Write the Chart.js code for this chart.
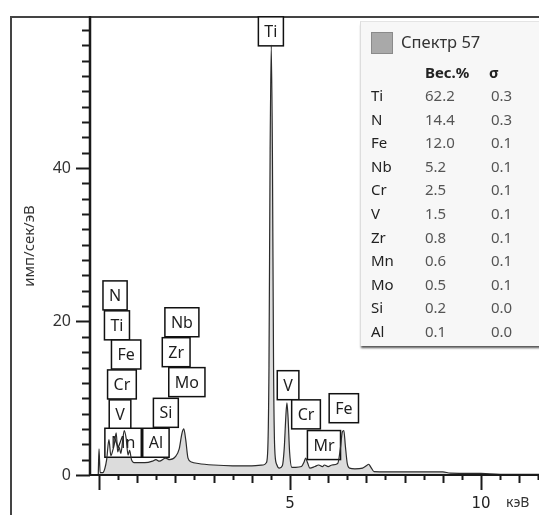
<!DOCTYPE html>
<html>
<head>
<meta charset="utf-8">
<script src="https://cdn.jsdelivr.net/npm/chart.js@4.4.1/dist/chart.umd.min.js"></script>
<style>
  body { margin: 0; background: #fff; }
  #wrap { position: relative; width: 539px; height: 515px; overflow: hidden; }
  #frame { position: absolute; left: 10px; top: 16px; width: 700px; height: 700px; border-left: 2px solid #444; border-top: 2px solid #444; }
  #spec { position: absolute; left: 0; top: 0; }
  #panel { position: absolute; left: 360px; top: 21px; width: 200px; height: 324px; background: #f7f7f7; border-left: 1px solid #ddd; border-top: 1px solid #e4e4e4; box-shadow: 0 3px 2px -1px #555; font-family: 'Noto Sans', sans-serif; color: #333; }
  #panel .sw { position: absolute; left: 10px; top: 10px; width: 20px; height: 20px; background: #a9a9a9; border: 1px solid #8a8a8a; }
  #panel .ttl { position: absolute; left: 40px; top: 8px; font-size: 16.5px; line-height: 24px; color: #333; }
  #panel .c { position: absolute; font-size: 15px; line-height: 20px; }
  #panel .h { font-weight: bold; color: #222; }
  #panel .el { color: #222; }
  #panel .v { color: #555; }
</style>
</head>
<body>
<div id="wrap">
  <div id="frame"></div>
  <canvas id="spec" width="539" height="515"></canvas>
  <div id="panel"></div>
</div>
<script>
/* spectrum */
const energy = [-0.02, 0.0, 0.03, 0.10, 0.15, 0.20, 0.26, 0.31, 0.36, 0.40, 0.45, 0.49, 0.53, 0.57, 0.62, 0.66, 0.71, 0.76, 0.80, 0.85, 0.92,
    1.0, 1.2, 1.4, 1.49, 1.58, 1.74, 1.85, 2.0, 2.1, 2.17, 2.22, 2.27, 2.33, 2.42, 2.6, 3.0, 3.5, 4.0, 4.3, 4.38, 4.42, 4.45, 4.48, 4.51,
    4.54, 4.57, 4.60, 4.65, 4.72, 4.80, 4.85, 4.89, 4.92, 4.95, 4.99, 5.05, 5.15, 5.30, 5.37, 5.41, 5.46, 5.52, 5.65, 5.75, 5.85, 5.90,
    6.0, 6.1, 6.25, 6.32, 6.37, 6.41, 6.45, 6.50, 6.56, 6.7, 6.9, 7.0, 7.06, 7.12, 7.2, 8.0, 9.0, 9.2, 10.0, 10.5, 11.6];
const counts = [0, 3.4, 0.3, 0.3, 0.8, 2.0, 4.6, 2.5, 3.2, 4.0, 5.5, 3.0, 3.6, 2.8, 4.5, 5.8, 4.8, 2.6, 3.2, 2.0, 1.6,
    1.6, 1.6, 1.8, 2.0, 1.8, 2.2, 2.0, 2.4, 3.4, 5.4, 6.0, 4.6, 2.2, 1.7, 1.5, 1.3, 1.2, 1.2, 1.3, 1.6, 3.5, 14, 42, 56,
    42, 14, 3.5, 1.4, 0.9, 1.2, 3.5, 7.5, 9.4, 7.5, 3.0, 1.0, 1.0, 1.1, 1.7, 2.2, 1.6, 0.9, 1.1, 1.3, 1.1, 1.3,
    1.1, 1.3, 1.5, 3.5, 5.6, 5.8, 3.8, 1.5, 0.9, 0.8, 0.9, 1.2, 1.4, 1.0, 0.45, 0.4, 0.4, 0.25, 0.2, 0.1, 0.1];

/* peak markers */
const peakNames = ['Ti', 'N', 'Ti', 'Fe', 'Cr', 'V', 'Mn', 'Al', 'Si', 'Nb', 'Zr', 'Mo', 'V', 'Cr', 'Fe', 'Mr'];
const peakKeV = [4.50, 0.42, 0.47, 0.71, 0.60, 0.55, 0.63, 1.49, 1.75, 2.17, 2.02, 2.30, 4.95, 5.42, 6.41, 5.89];
const peakCounts = [57.8, 23.4, 19.5, 15.7, 11.8, 7.9, 4.2, 4.2, 8.1, 19.9, 16.0, 12.1, 11.7, 7.9, 8.7, 3.9];

/* axes */
const xTickLabels = [0, 5, 10];
const yTickLabels = [0, 20, 40];

/* quant table */
const elements = ['Ti', 'N', 'Fe', 'Nb', 'Cr', 'V', 'Zr', 'Mn', 'Mo', 'Si', 'Al'];
const weightPct = ['62.2', '14.4', '12.0', '5.2', '2.5', '1.5', '0.8', '0.6', '0.5', '0.2', '0.1'];
const sigmaPct = ['0.3', '0.3', '0.1', '0.1', '0.1', '0.1', '0.1', '0.1', '0.1', '0.0', '0.0'];

function renderPanel() {
    const p = document.getElementById('panel');
    let html = '<div class="sw"></div><div class="ttl">Спектр 57</div>' +
        '<div class="c h" style="left:64px;top:40px">Вес.%</div><div class="c h" style="left:128px;top:40px">σ</div>';
    elements.forEach((el, i) => {
        const top = 63 + i * 23.6;
        html += `<div class="c el" style="left:10px;top:${top}px">${el}</div>` +
            `<div class="c v" style="left:64px;top:${top}px">${weightPct[i]}</div>` +
            `<div class="c v" style="left:130px;top:${top}px">${sigmaPct[i]}</div>`;
    });
    p.innerHTML = html;
}

const decor = {
    id: 'decor',
    afterDatasetDraw(chart, args) {
        if (args.index !== 0) return;
        // marker boxes sit over the fill but under the trace
        const ctx = chart.ctx, xs = chart.scales.x, ys = chart.scales.y;
        ctx.save();
        ctx.font = '16px "Noto Sans"';
        ctx.textAlign = 'center';
        ctx.textBaseline = 'middle';
        peakNames.forEach((n, i) => {
            const cx = xs.getPixelForValue(peakKeV[i]), cy = ys.getPixelForValue(peakCounts[i]);
            const w = Math.max(21, ctx.measureText(n).width + 12), h = 29;
            ctx.fillStyle = '#fff';
            ctx.fillRect(cx - w / 2, cy - h / 2, w, h);
            ctx.strokeStyle = '#111';
            ctx.lineWidth = 1.5;
            ctx.strokeRect(cx - w / 2, cy - h / 2, w, h);
            ctx.fillStyle = '#1e1e1e';
            ctx.fillText(n, cx, cy + 1);
        });
        ctx.restore();
    },
    afterDraw(chart) {
        const ctx = chart.ctx, xs = chart.scales.x, ys = chart.scales.y, a = chart.chartArea;
        ctx.save();
        ctx.strokeStyle = '#1a1a1a';
        // axis lines
        ctx.lineWidth = 2.5;
        ctx.beginPath(); ctx.moveTo(a.left, a.top); ctx.lineTo(a.left, a.bottom + 1); ctx.stroke();
        ctx.lineWidth = 2;
        ctx.beginPath(); ctx.moveTo(a.left, a.bottom); ctx.lineTo(a.right, a.bottom); ctx.stroke();
        // y ticks
        ctx.lineWidth = 2;
        for (let v = 0; v <= ys.max; v += 2) {
            const y = Math.round(ys.getPixelForValue(v)) + 0.5;
            const len = yTickLabels.includes(v) ? 14 : 8;
            ctx.beginPath(); ctx.moveTo(a.left - len, y); ctx.lineTo(a.left, y); ctx.stroke();
        }
        // x ticks
        for (let v = 0; v <= xs.max; v += 0.5) {
            const x = Math.round(xs.getPixelForValue(v)) + 0.5;
            const len = xTickLabels.includes(v) ? 15 : (v % 1 === 0 ? 8 : 5);
            ctx.beginPath(); ctx.moveTo(x, a.bottom); ctx.lineTo(x, a.bottom + len); ctx.stroke();
        }
        // axis titles
        ctx.fillStyle = '#333';
        ctx.font = '14px "Noto Sans"';
        ctx.textAlign = 'left';
        ctx.textBaseline = 'middle';
        ctx.fillText('кэВ', 506, 503);
        ctx.translate(30, 246);
        ctx.rotate(-Math.PI / 2);
        ctx.textAlign = 'center';
        ctx.font = '15px "Noto Sans"';
        ctx.fillText('имп/сек/эВ', 0, 0);
        ctx.restore();
    }
};

function renderSpectrum() {
    const pts = energy.map((e, i) => ({ x: e, y: counts[i] }));
    new Chart(document.getElementById('spec'), {
        type: 'line',
        data: {
            datasets: [
                { data: pts, fill: 'origin', backgroundColor: '#dcdcdc', borderWidth: 0, pointRadius: 0, cubicInterpolationMode: 'monotone', order: 2 },
                { data: pts, fill: false, borderColor: '#2b2b2b', borderWidth: 1.2, pointRadius: 0, cubicInterpolationMode: 'monotone', order: 1 }
            ]
        },
        options: {
            responsive: false,
            animation: false,
            layout: { padding: { top: 16, right: 0, left: 0, bottom: 0 } },
            plugins: { legend: { display: false }, tooltip: { enabled: false } },
            scales: {
                x: {
                    type: 'linear', min: -0.236, max: 11.52,
                    grid: { display: false, drawTicks: false }, border: { display: false },
                    afterFit: s => { s.height = 40; s.paddingLeft = 0; s.paddingRight = 0; },
                    ticks: { stepSize: 0.5, autoSkip: false, maxRotation: 0, padding: 20, color: '#222', font: { family: 'DejaVu Sans', size: 15 },
                        callback: v => xTickLabels.includes(v) ? String(v) : '' }
                },
                y: {
                    min: 0, max: 59.8,
                    grid: { display: false, drawTicks: false }, border: { display: false },
                    afterFit: s => { s.width = 90; s.paddingTop = 0; s.paddingBottom = 0; },
                    ticks: { stepSize: 2, autoSkip: false, padding: 19, color: '#333', font: { family: 'Noto Sans', size: 16 },
                        callback: v => yTickLabels.includes(v) ? String(v) : '' }
                }
            }
        },
        plugins: [decor]
    });
}

document.addEventListener('DOMContentLoaded', () => {
    renderPanel();
    renderSpectrum();
});
</script>
</body>
</html>
